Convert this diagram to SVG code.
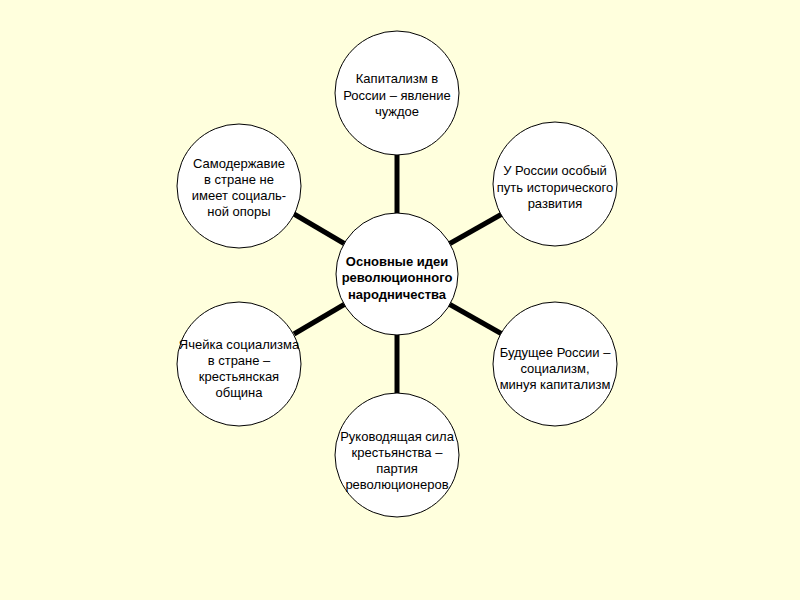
<svg xmlns="http://www.w3.org/2000/svg" width="800" height="600" viewBox="0 0 800 600">
<style>
.bg{fill:#FFFFDD}
.node circle{fill:#FFFFFF;stroke:#000000;stroke-width:1}
.node text{font-family:"Liberation Sans",Arial,sans-serif;font-size:13px;fill:#000;text-anchor:middle}
#center text{font-weight:bold}
.conn line{stroke:#000;stroke-width:5}
</style>
<rect class="bg" x="0" y="0" width="800" height="600"/>
<g id="connectors" class="conn">
<line x1="397" y1="155" x2="397" y2="214"/>
<line x1="397" y1="334" x2="397" y2="394"/>
<line x1="449" y1="244" x2="502" y2="214"/>
<line x1="345" y1="244" x2="294" y2="214"/>
<line x1="449" y1="304" x2="502" y2="334"/>
<line x1="345" y1="304" x2="294" y2="334"/>
</g>
<g id="top" class="node">
<circle cx="397" cy="93" r="62"/>
<text x="397" y="83">Капитализм в</text>
<text x="397" y="100">России – явление</text>
<text x="397" y="116">чуждое</text>
</g>
<g id="top-right" class="node">
<circle cx="555" cy="184" r="62"/>
<text x="555" y="175">У России особый</text>
<text x="555" y="192">путь исторического</text>
<text x="555" y="208">развития</text>
</g>
<g id="top-left" class="node">
<circle cx="239" cy="186" r="62"/>
<text x="239" y="168">Самодержавие</text>
<text x="239" y="184">в стране не</text>
<text x="239" y="200">имеет социаль-</text>
<text x="239" y="216">ной опоры</text>
</g>
<g id="center" class="node">
<circle cx="397" cy="274" r="61"/>
<text x="397" y="266">Основные идеи</text>
<text x="397" y="282">революционного</text>
<text x="397" y="299">народничества</text>
</g>
<g id="bottom-left" class="node">
<circle cx="239" cy="364" r="62"/>
<text x="239" y="349">Ячейка социализма</text>
<text x="239" y="365">в стране –</text>
<text x="239" y="381">крестьянская</text>
<text x="239" y="397">община</text>
</g>
<g id="bottom-right" class="node">
<circle cx="555" cy="364" r="62"/>
<text x="555" y="357">Будущее России –</text>
<text x="555" y="373">социализм,</text>
<text x="555" y="389">минуя капитализм</text>
</g>
<g id="bottom" class="node">
<circle cx="397" cy="455" r="62"/>
<text x="397" y="441">Руководящая сила</text>
<text x="397" y="457">крестьянства –</text>
<text x="397" y="473">партия</text>
<text x="397" y="489">революционеров</text>
</g>
</svg>
